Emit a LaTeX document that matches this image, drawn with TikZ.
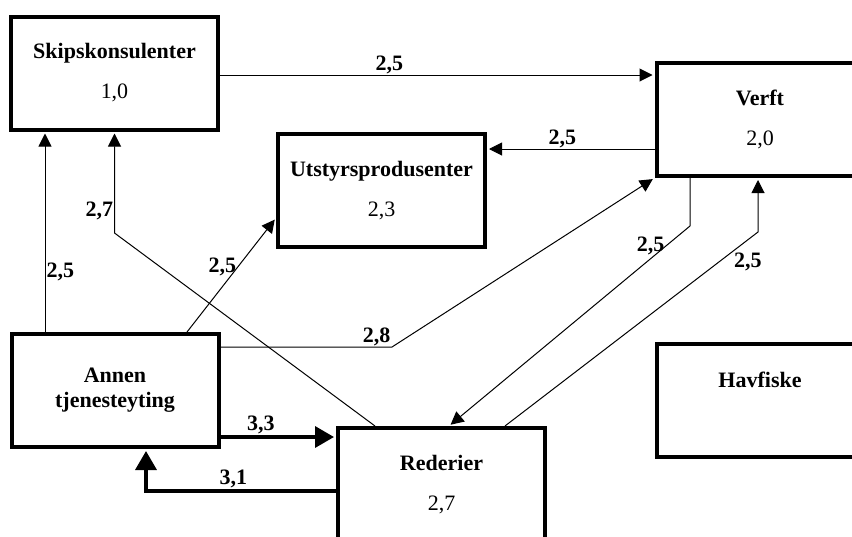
\documentclass[tikz,border=0pt]{standalone}
\usepackage{fontspec}
\setmainfont{Liberation Serif}
\usetikzlibrary{arrows.meta, positioning, calc}

\begin{document}
\begin{tikzpicture}[x=1pt, y=-1pt,
  box/.style={draw, line width=4pt, minimum width=207pt, minimum height=113pt,
    align=center, inner sep=0pt, font=\fontsize{22}{25}\selectfont},
  conn/.style={line width=1pt, shorten >=2pt, -{Triangle[length=13pt, width=13pt]}},
  thickconn/.style={line width=3.5pt, shorten >=2pt, -{Triangle[length=19pt, width=21pt]}},
  lbl/.style={font=\fontsize{22}{25}\selectfont\bfseries, inner sep=1pt}]
  \clip (0,0) rectangle (852,536);

  % Boxes
  \node[box] (skip) at (114.5,73) {\textbf{Skipskonsulenter}\\[15pt]1,0};
  \node[box] (verft) at (760,119.5) {\textbf{Verft}\\[15pt]2,0};
  \node[box] (utstyr) at (381.5,190.5) {\textbf{Utstyrsprodusenter}\\[15pt]2,3};
  \node[box] (annen) at (115,390.5) {\textbf{Annen}\\\textbf{tjenesteyting}};
  \node[box] (rederier) at (441.5,484.5) {\textbf{Rederier}\\[15pt]2,7};
  \node[box] (havfiske) at (760,400) {\textbf{Havfiske}\\[15pt]~};

  % Bend points
  \coordinate (s2v) at ([yshift=-2pt]skip.east);
  \coordinate (v2u) at ([yshift=-29.5pt]verft.west);
  \coordinate (a2s) at ([xshift=-70pt]annen.north);
  \coordinate (a2r) at ([yshift=-46.5pt]annen.east);
  \coordinate (sbend) at (114.5,233);
  \coordinate (abend) at (392,347);
  \coordinate (vbend) at (690,226);
  \coordinate (rbend) at (758,232);

  % Thin flows
  \draw[conn] (s2v) -- node[lbl, above, pos=0.39] {2,5} (s2v -| verft.west);
  \draw[conn] (v2u) -- node[lbl, above, pos=0.55] {2,5} (v2u -| utstyr.east);
  \draw[conn] ([xshift=72pt]annen.north) -- node[lbl, left, pos=0.57] {2,5} ([yshift=-27.5pt]utstyr.west);
  \draw[conn] (a2s) -- node[lbl, right, pos=0.3] {2,5} (a2s |- skip.south);
  \draw[conn] ([xshift=-66.5pt]rederier.north) -- (sbend) -- node[lbl, left, pos=0.22] {2,7} (skip.south);
  \draw[conn] ([yshift=43.5pt]annen.east) -- node[lbl, above, pos=0.91] {2,8} (abend) -- (verft.south west);
  \draw[conn] ([xshift=-70pt]verft.south) -- (vbend) -- node[lbl, left, pos=0.1] {2,5} ([xshift=7.5pt]rederier.north);
  \draw[conn] ([xshift=63.5pt]rederier.north) -- node[lbl, below right, pos=0.9] {2,5} (rbend) -- (rbend |- verft.south);

  % Thick flows
  \draw[thickconn] (a2r) -- node[lbl, above, pos=0.35] {3,3} (a2r -| rederier.west);
  \draw[thickconn] ([yshift=-6.5pt]rederier.west) -| node[lbl, above, pos=0.27] {3,1} ([xshift=31pt]annen.south);
\end{tikzpicture}
\end{document}
